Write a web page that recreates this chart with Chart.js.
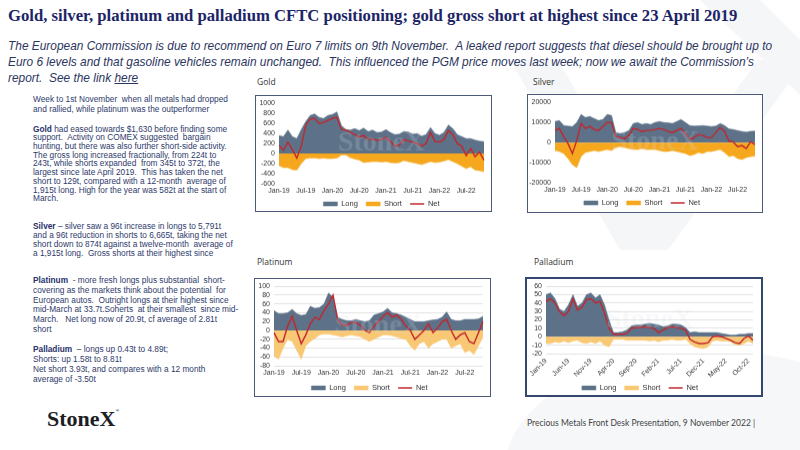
<!DOCTYPE html>
<html lang="en">
<head>
<meta charset="UTF-8">
<title>Gold, silver, platinum and palladium CFTC positioning</title>
<script src="https://cdn.jsdelivr.net/npm/chart.js"></script>
<style>
  body { margin: 0; background: #fff; }
  .slide { position: relative; width: 800px; height: 450px; overflow: hidden; background: #fff;
           font-family: "Liberation Sans", Arial, sans-serif; }
  .bgmark { position: absolute; left: 0; top: 0; }
  .title { position: absolute; left: 8px; top: 6px; font-family: "Liberation Serif", serif; font-weight: bold;
           font-size: 16.7px; color: #1c2566; white-space: nowrap; }
  .sub { position: absolute; left: 8px; top: 38px; font-style: italic; font-size: 11.9px; line-height: 16px;
         color: #2c3560; white-space: pre; }
  .note { position: absolute; left: 33px; font-size: 8.3px; color: #2e3a6b; white-space: pre; }
  .note b { color: #27316a; }
  .ctitle { position: absolute; font-family: "Open Sans", sans-serif; font-size: 8.5px; color: #333; }
  .wrap { position: absolute; }
  .box { position: absolute; border: 1.5px solid #4b5a78; box-sizing: border-box; pointer-events: none; }
  .fill { position: absolute; background: #fff; }
  .logo { position: absolute; left: 47px; top: 406px; font-family: "Liberation Serif", serif; font-weight: bold;
          font-size: 22px; color: #1d1d24; }
  .logo sup { font-size: 5px; vertical-align: 14px; }
  .footer { position: absolute; left: 527px; top: 418px; font-family: Lato, sans-serif; font-size: 8.5px; color: #444; }
</style>
</head>
<body>
<div class="slide">
  <!-- pale logo shapes behind the slide -->
  <svg class="bgmark" width="800" height="450">
    <polygon points="510,60 558,60 668,250 620,250" fill="#f5f6f8"/>
    <polygon points="758,60 806,60 668,250 620,250" fill="#f5f6f8"/>
    <polygon points="700,0 760,0 800,40 800,95" fill="#f5f6f8"/>
    <ellipse cx="710" cy="470" rx="205" ry="120" fill="#f6f7f9"/>
  </svg>

  <div class="title">Gold, silver, platinum and palladium CFTC positioning; gold gross short at highest since 23 April 2019</div>
  <div class="sub">The European Commission is due to recommend on Euro 7 limits on 9th November.  A leaked report suggests that diesel should be brought up to
Euro 6 levels and that gasoline vehicles remain unchanged.  This influenced the PGM price moves last week; now we await the Commission’s
report.  See the link <u>here</u></div>

  <div class="note" style="top:95px; line-height:9.5px;">Week to 1st November  when all metals had dropped
and rallied, while platinum was the outperformer</div>
  <div class="note" style="top:124.6px; line-height:8.7px;"><b>Gold</b> had eased towards $1,630 before finding some
support.  Activity on COMEX suggested  bargain
hunting, but there was also further short-side activity.
The gross long increased fractionally, from 224t to
243t, while shorts expanded  from 345t to 372t, the
largest since late April 2019.  This has taken the net
short to 129t, compared with a 12-month  average of
1,915t long. High for the year was 582t at the start of
March.</div>
  <div class="note" style="top:221.5px; line-height:9px;"><b>Silver</b> – silver saw a 96t increase in longs to 5,791t
and a 96t reduction in shorts to 6,665t, taking the net
short down to 874t against a twelve-month  average of
a 1,915t long.  Gross shorts at their highest since</div>
  <div class="note" style="top:276px; line-height:9.8px;"><b>Platinum</b>  - more fresh longs plus substantial  short-
covering as the markets think about the potential  for
European autos.  Outright longs at their highest since
mid-March at 33.7t.Soherts  at their smallest  since mid-
March.   Net long now of 20.9t, cf average of 2.81t
short</div>
  <div class="note" style="top:344px; line-height:10px;"><b>Palladium</b>  – longs up 0.43t to 4.89t;
Shorts: up 1.58t to 8.81t
Net short 3.93t, and compares with a 12 month
average of -3.50t</div>

  <div class="ctitle" style="left:257px; top:76px;">Gold</div>
  <div class="ctitle" style="left:533px; top:76px;">Silver</div>
  <div class="ctitle" style="left:257px; top:256px;">Platinum</div>
  <div class="ctitle" style="left:534px; top:256px;">Palladium</div>

  <div class="fill" id="fGold"></div>
  <div class="fill" id="fSilver"></div>
  <div class="fill" id="fPlat"></div>
  <div class="fill" id="fPall"></div>
  <div class="wrap" id="wGold"><canvas id="cGold"></canvas></div>
  <div class="wrap" id="wSilver"><canvas id="cSilver"></canvas></div>
  <div class="wrap" id="wPlat"><canvas id="cPlat"></canvas></div>
  <div class="wrap" id="wPall"><canvas id="cPall"></canvas></div>
  <div class="box" id="bGold"></div>
  <div class="box" id="bSilver"></div>
  <div class="box" id="bPlat"></div>
  <div class="box" id="bPall" style="border:2px solid #34456e;"></div>

  <div class="logo">StoneX<sup>®</sup></div>
  <div class="footer">Precious Metals Front Desk Presentation, 9 November 2022 |</div>
</div>

<script>
  // month categories, weekly CFTC data read off roughly once a month
  const months = [
    'Jan-19','Feb-19','Mar-19','Apr-19','May-19','Jun-19','Jul-19','Aug-19','Sep-19','Oct-19','Nov-19','Dec-19',
    'Jan-20','Feb-20','Mar-20','Apr-20','May-20','Jun-20','Jul-20','Aug-20','Sep-20','Oct-20','Nov-20','Dec-20',
    'Jan-21','Feb-21','Mar-21','Apr-21','May-21','Jun-21','Jul-21','Aug-21','Sep-21','Oct-21','Nov-21','Dec-21',
    'Jan-22','Feb-22','Mar-22','Apr-22','May-22','Jun-22','Jul-22','Aug-22','Sep-22','Oct-22','Nov-22'
  ];
  const halfYearTicks = ['Jan-19','Jul-19','Jan-20','Jul-20','Jan-21','Jul-21','Jan-22','Jul-22'];
  const pallTicks = ['Jan-19','Jun-19','Nov-19','Apr-20','Sep-20','Feb-21','Jul-21','Dec-21','May-22','Oct-22'];

  const goldLong = [360,340,470,340,300,480,640,760,790,720,700,760,780,830,560,480,470,500,460,510,440,470,420,430,
                    480,420,380,390,440,430,390,400,350,380,520,400,370,420,570,500,380,340,300,300,270,250,240];
  const goldShort = [-240,-280,-280,-320,-330,-200,-100,-90,-90,-100,-90,-100,-100,-90,-30,-30,-80,-110,-130,-180,-170,-160,-160,-170,
                     -160,-180,-190,-180,-140,-160,-180,-200,-220,-190,-160,-180,-170,-150,-120,-160,-200,-250,-300,-260,-330,-340,-360];
  const goldNet = [160,70,230,80,-90,150,560,690,700,600,620,660,700,720,480,470,420,380,330,360,280,290,260,280,
                   320,240,150,170,280,250,230,200,150,200,420,240,230,280,460,380,200,150,-40,100,-60,30,-130];

  const silverLong = [10500,11000,8500,8200,8000,10000,14000,12500,13000,12000,11000,11500,14000,13500,5000,4500,5000,6000,9500,10000,9000,9500,9000,10000,
                      10500,10000,9800,9500,10500,11500,10000,8500,8200,8300,8500,8200,8000,8200,9500,8500,6800,6500,6000,5500,5200,5600,5700];
  const silverShort = [-4000,-4500,-5500,-8000,-11000,-12500,-7000,-5000,-4500,-4000,-4500,-4000,-3500,-4000,-2500,-2000,-2500,-3000,-3500,-3500,-3000,-3500,-3500,-3500,
                       -4000,-4500,-4500,-4000,-4500,-5000,-5500,-6500,-6000,-5000,-5500,-4500,-4500,-4000,-3500,-5000,-7000,-6500,-8000,-8500,-7500,-7000,-6700];
  const silverNet = [6000,7000,3000,-500,-5500,1000,9500,7000,8000,6500,6000,8000,10000,10000,3000,2500,2000,3500,7000,6500,5500,6000,6000,6500,
                     7000,6500,5500,5000,6000,7000,4500,1500,2500,4000,3500,2500,2500,5000,7500,5500,800,300,-2000,-1500,-3000,500,-1000];

  const platLong = [45,38,38,40,48,38,34,36,55,50,52,60,85,75,30,25,22,22,25,22,20,22,35,38,
                    42,50,40,38,35,30,25,20,20,20,22,24,25,30,42,25,22,22,25,25,25,26,32];
  const platShort = [-58,-65,-40,-20,-25,-45,-65,-35,-25,-18,-10,-8,-8,-10,-12,-15,-12,-10,-12,-14,-20,-25,-20,-15,
                     -10,-10,-12,-15,-18,-20,-35,-45,-30,-25,-40,-30,-25,-20,-20,-40,-35,-30,-50,-45,-55,-35,-15];
  const platNet = [-5,-25,-25,10,32,0,-30,-10,15,30,25,45,60,80,25,12,12,18,18,12,0,-5,10,20,
                   32,40,30,35,25,10,0,-20,-10,0,15,-5,5,20,25,0,-20,-10,-5,-25,-30,-5,20];

  const pallLong = [50,52,45,33,30,38,50,36,40,50,52,46,50,38,20,5,5,6,8,13,14,14,15,16,
                    15,14,12,13,15,15,14,11,5,6,5,5,5,5,5,4,3,2,2,3,3,4,4];
  const pallShort = [-8,-8,-6,-7,-5,-7,-5,-4,-7,-8,-6,-8,-5,-10,-12,-3,-3,-3,-4,-4,-4,-4,-4,-5,
                     -4,-6,-4,-4,-3,-4,-4,-3,-8,-12,-13,-14,-12,-5,-4,-5,-5,-6,-9,-10,-8,-5,-8];
  const pallNet = [42,45,40,30,25,30,45,32,35,44,45,40,42,28,10,3,3,3,4,10,11,11,12,11,
                   10,5,8,11,12,11,10,8,-3,-6,-8,-8,-7,0,1,0,-2,-4,-7,-8,-2,1,-4];

  const LONG = '#5d7289', SHORT = '#f5a81e', SHORT_LIGHT = '#f9c874', NET = '#c1272d';
  const LEG_FONT = 7.5;

  Chart.defaults.font.family = '"Liberation Sans", Arial, sans-serif';
  Chart.defaults.color = '#333';

  // faint StoneX mark over each plot
  const stonexMark = {
    id: 'stonexMark',
    afterDatasetsDraw(chart) {
      const a = chart.chartArea, c = chart.ctx;
      c.save();
      c.font = 'bold 28px "Liberation Serif"';
      c.fillStyle = 'rgba(215,220,230,0.2)';
      c.textAlign = 'center';
      c.textBaseline = 'middle';
      c.fillText('StoneX', (a.left + a.right) / 2, (a.top + a.bottom) / 2);
      c.restore();
    }
  };

  function place(el, x, y, w, h) {
    el.style.left = x + 'px';
    el.style.top = y + 'px';
    el.style.width = w + 'px';
    el.style.height = h + 'px';
  }

  function panel(key, p) {
    // legend row sits 10px + half a row above the canvas bottom
    const canvasH = p.legendY + LEG_FONT / 2 + 10 - p.box.y;
    place(document.getElementById('w' + key), p.box.x, p.box.y, p.box.w, canvasH);
    place(document.getElementById('b' + key), p.box.x, p.box.y, p.box.w, p.box.h);
    place(document.getElementById('f' + key), p.box.x, p.box.y, p.box.w, p.box.h);

    const legendTop = p.box.y + canvasH - (LEG_FONT + 10);

    new Chart(document.getElementById('c' + key), {
      type: 'line',
      data: {
        labels: months,
        datasets: [
          { label: 'Long', data: p.long, backgroundColor: LONG, borderColor: LONG, borderWidth: 0.5,
            fill: 'origin', pointStyle: 'rect', order: 2 },
          { label: 'Short', data: p.short, backgroundColor: p.shortColor, borderColor: p.shortColor, borderWidth: 0.5,
            fill: 'origin', pointStyle: 'rect', order: 1 },
          { label: 'Net', data: p.net, borderColor: NET, backgroundColor: NET, borderWidth: 1.4,
            fill: false, pointStyle: 'line', order: 0 }
        ]
      },
      options: {
        responsive: true,
        maintainAspectRatio: false,
        animation: false,
        elements: { point: { radius: 0 }, line: { tension: 0 } },
        layout: { padding: { left: 2, top: p.plot.top - p.box.y, right: p.box.x + p.box.w - p.plot.right, bottom: 0 } },
        plugins: {
          tooltip: { enabled: false },
          legend: {
            position: 'bottom',
            fullSize: p.legendFull,
            labels: {
              usePointStyle: true, pointStyleWidth: 14, boxHeight: 4, padding: 0,
              font: { size: LEG_FONT }, color: '#333',
              sort: (a, b) => a.datasetIndex - b.datasetIndex,
              // gap between items comes from trailing spaces, so the row height stays small
              generateLabels: chart => Chart.defaults.plugins.legend.labels.generateLabels(chart)
                .map(it => Object.assign(it, { text: it.text === 'Net' ? it.text : it.text + '    ' }))
            }
          }
        },
        scales: {
          x: {
            grid: { display: false, drawTicks: false },
            border: { display: false },
            ticks: {
              autoSkip: false, padding: 3, font: { size: 7 }, color: '#333',
              minRotation: p.rotate, maxRotation: p.rotate,
              callback: (v, i) => p.ticks.includes(months[i]) ? months[i] : ''
            },
            afterFit: s => { s.height = legendTop - p.plot.bottom; }
          },
          y: {
            min: p.min, max: p.max,
            grid: { display: p.grid, color: '#dcdcdc', lineWidth: 0.8, drawTicks: false },
            border: { display: false },
            ticks: { stepSize: p.step, autoSkip: false, padding: 4, font: { size: 7 }, color: '#333', callback: v => v },
            afterFit: s => { s.width = p.plot.left - p.box.x - 2; }
          }
        }
      },
      plugins: [stonexMark]
    });
  }

  panel('Gold', {
    box: { x: 255, y: 95, w: 237, h: 117 }, plot: { left: 279, top: 102, right: 484, bottom: 183 }, legendY: 203,
    long: goldLong, short: goldShort, net: goldNet, shortColor: SHORT, legendFull: false,
    min: -600, max: 1000, step: 200, grid: false, ticks: halfYearTicks, rotate: 0
  });
  panel('Silver', {
    box: { x: 527, y: 94, w: 236, h: 119 }, plot: { left: 555, top: 102, right: 755, bottom: 182 }, legendY: 202,
    long: silverLong, short: silverShort, net: silverNet, shortColor: SHORT, legendFull: true,
    min: -20000, max: 20000, step: 10000, grid: false, ticks: halfYearTicks, rotate: 0
  });
  panel('Plat', {
    box: { x: 254, y: 278, w: 237, h: 119 }, plot: { left: 274, top: 286, right: 483, bottom: 365 }, legendY: 387,
    long: platLong, short: platShort, net: platNet, shortColor: SHORT_LIGHT, legendFull: true,
    min: -80, max: 100, step: 20, grid: true, ticks: halfYearTicks, rotate: 0
  });
  panel('Pall', {
    box: { x: 525, y: 277, w: 238, h: 120 }, plot: { left: 546, top: 286, right: 753, bottom: 353 }, legendY: 387,
    long: pallLong, short: pallShort, net: pallNet, shortColor: SHORT_LIGHT, legendFull: true,
    min: -20, max: 60, step: 10, grid: true, ticks: pallTicks, rotate: 45
  });
</script>
</body>
</html>
